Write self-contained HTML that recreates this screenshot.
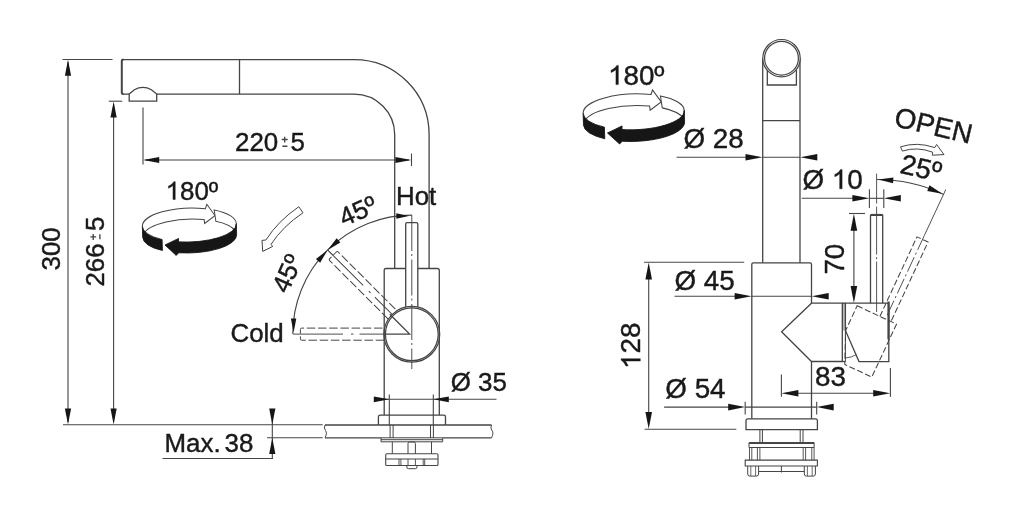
<!DOCTYPE html>
<html lang="en">
<head>
<meta charset="utf-8">
<title>Faucet dimensions</title>
<style>
html,body{margin:0;padding:0;background:#fff;}
body{width:1024px;height:513px;overflow:hidden;font-family:"Liberation Sans",sans-serif;}
svg{display:block;}
svg text{font-family:"Liberation Sans",sans-serif;fill:#1a1a1a;stroke:#1a1a1a;stroke-width:0.42px;stroke-linejoin:round;}
</style>
</head>
<body>
<svg width="1024" height="513" viewBox="0 0 1024 513">
<defs><filter id="soft" x="0" y="0" width="1024" height="513" filterUnits="userSpaceOnUse"><feGaussianBlur stdDeviation="0.55"/></filter></defs>
<rect x="0" y="0" width="1024" height="513" fill="#ffffff"/>
<g filter="url(#soft)">
<line x1="62.5" y1="59.5" x2="112.5" y2="59.5" stroke="#444444" stroke-width="1.1"/>
<line x1="68" y1="62" x2="68" y2="422" stroke="#444444" stroke-width="1.1"/>
<polygon points="68,59.8 71.1,75.8 64.9,75.8" fill="#161616"/>
<polygon points="68,424.6 64.9,408.6 71.1,408.6" fill="#161616"/>
<line x1="108.8" y1="101.2" x2="122.2" y2="101.2" stroke="#444444" stroke-width="1.1"/>
<line x1="113.6" y1="104" x2="113.6" y2="422" stroke="#444444" stroke-width="1.1"/>
<polygon points="113.6,101.4 116.7,117.4 110.5,117.4" fill="#161616"/>
<polygon points="113.6,424.6 110.5,408.6 116.7,408.6" fill="#161616"/>
<line x1="63" y1="424.8" x2="322.7" y2="424.8" stroke="#444444" stroke-width="1.1"/>
<line x1="143" y1="107.5" x2="143" y2="164.5" stroke="#444444" stroke-width="1.1"/>
<line x1="411.5" y1="153.5" x2="411.5" y2="166" stroke="#444444" stroke-width="1.1"/>
<line x1="145" y1="160" x2="409" y2="160" stroke="#444444" stroke-width="1.1"/>
<polygon points="143.2,160 159.2,156.9 159.2,163.1" fill="#161616"/>
<polygon points="411.3,160 395.3,163.1 395.3,156.9" fill="#161616"/>
<line x1="267" y1="437.7" x2="322.7" y2="437.7" stroke="#444444" stroke-width="1.1"/>
<line x1="272.3" y1="409" x2="272.3" y2="458.5" stroke="#444444" stroke-width="1.1"/>
<polygon points="272.3,424.6 269.2,408.6 275.4,408.6" fill="#161616"/>
<polygon points="272.3,437.9 275.4,453.9 269.2,453.9" fill="#161616"/>
<line x1="162.5" y1="458.5" x2="273" y2="458.5" stroke="#444444" stroke-width="1.1"/>
<path d="M122.5,59.6 H354.1 A75,75 0 0 1 429.1,134.6 V268.5" fill="none" stroke="#444444" stroke-width="1.3" />
<path d="M122.5,94.1 H129.2 M156.7,94.1 H354.1 A40.6,40.5 0 0 1 394.7,134.6 V268.5" fill="none" stroke="#444444" stroke-width="1.3" />
<path d="M123.5,94.1 Q121.8,94.1 121.8,92.6 V61.1 Q121.8,59.6 123.5,59.6" fill="none" stroke="#444444" stroke-width="2.0" />
<line x1="239.5" y1="59.6" x2="239.5" y2="94.1" stroke="#444444" stroke-width="1.3"/>
<path d="M129.2,101.2 V94.1 L134.4,89.7 Q142.9,85.1 151.4,89.7 L156.7,94.1 V101.2 Z" fill="none" stroke="#444444" stroke-width="1.3" />
<path d="M384.2,415 V270.5 Q384.2,268.5 386.2,268.5 H437.3 Q439.3,268.5 439.3,270.5 V415" fill="none" stroke="#444444" stroke-width="1.3" />
<path d="M405.7,307 V224 Q405.7,222.7 407,222.7 H416.5 Q417.8,222.7 417.8,224 V307" fill="#fff" stroke="#444444" stroke-width="1.3" />
<line x1="411.8" y1="215" x2="411.8" y2="369" stroke="#444444" stroke-width="0.95" stroke-dasharray="36 3 2 3.5"/>
<circle cx="411.8" cy="334.3" r="27.9" fill="none" stroke="#444444" stroke-width="1.25"/>
<circle cx="411.8" cy="334.3" r="26.4" fill="none" stroke="#444444" stroke-width="1.25"/>
<path d="M384.2,334.1 H409.6 L389.8,314.3" fill="none" stroke="#444444" stroke-width="1.3" />
<g transform="rotate(-45 411.8 334.1)"><path d="M405.7,306.5 V224 Q405.7,222.7 407,222.7 H416.5 Q417.8,222.7 417.8,224 V306.5" fill="none" stroke="#444444" stroke-width="1" stroke-dasharray="8.5 2.7"/><line x1="411.8" y1="215.3" x2="411.8" y2="307" stroke="#444444" stroke-width="0.95" stroke-dasharray="50 8 2.5 6 40"/></g>
<g transform="rotate(-90 411.8 334.1)"><path d="M405.7,306.5 V224 Q405.7,222.7 407,222.7 H416.5 Q417.8,222.7 417.8,224 V306.5" fill="none" stroke="#444444" stroke-width="1" stroke-dasharray="8.5 2.7"/><line x1="411.8" y1="215.3" x2="411.8" y2="307" stroke="#444444" stroke-width="0.95" stroke-dasharray="50 8 2.5 6 40"/></g>
<path d="M292.8,334.1 A119.0,119.0 0 0 1 411.8,215.1" fill="none" stroke="#444444" stroke-width="1.1" />
<polygon points="293.6,332.6 290.9,318.6 296.3,318.6" fill="#161616"/>
<polygon points="327.65,249.95 320.14,262.67 315.95,258.96" fill="#161616"/>
<polygon points="327.65,249.95 336.66,238.25 340.37,242.44" fill="#161616"/>
<polygon points="408.8,216 396.3,218.7 396.3,213.3" fill="#161616"/>
<line x1="327.66" y1="249.96" x2="332.96" y2="255.26" stroke="#444444" stroke-width="0.9"/>
<path d="M298.8,206.7 L303,212.8 Q283,226 270.9,244.5 L272.8,246.4 L262.7,251.4 L262,240.4 L265.9,240 Q278,221 298.8,206.7 Z" fill="none" stroke="#444444" stroke-width="1.0" />
<line x1="389.3" y1="394.5" x2="389.3" y2="425" stroke="#444444" stroke-width="1.1"/>
<line x1="433.3" y1="394.5" x2="433.3" y2="425" stroke="#444444" stroke-width="1.1"/>
<line x1="374.3" y1="399.3" x2="496.5" y2="399.3" stroke="#444444" stroke-width="1.1"/>
<polygon points="389.3,399.3 373.8,402.2 373.8,396.4" fill="#161616"/>
<polygon points="433.3,399.3 448.8,396.4 448.8,402.2" fill="#161616"/>
<path d="M378.4,425 V417 Q378.4,415.2 380.2,415.2 H443.7 Q445.5,415.2 445.5,417 V425" fill="none" stroke="#444444" stroke-width="1.3" />
<line x1="325" y1="425" x2="378.4" y2="425" stroke="#444444" stroke-width="1.3"/>
<line x1="445.5" y1="425" x2="491.5" y2="425" stroke="#444444" stroke-width="1.3"/>
<line x1="378.4" y1="425" x2="445.5" y2="425" stroke="#444444" stroke-width="1.3"/>
<line x1="325" y1="437.8" x2="381" y2="437.8" stroke="#444444" stroke-width="1.3"/>
<line x1="442.7" y1="437.8" x2="491.5" y2="437.8" stroke="#444444" stroke-width="1.3"/>
<path d="M491.5,425 Q490,428 492,430.5 Q494,433 491.5,437.8" fill="none" stroke="#444444" stroke-width="1.0" />
<path d="M325,425 Q323.5,428 325.5,430.5 Q327.5,433 325,437.8" fill="none" stroke="#444444" stroke-width="1.0" />
<line x1="390.1" y1="425" x2="390.1" y2="438" stroke="#444444" stroke-width="1.0"/>
<line x1="393.1" y1="425" x2="393.1" y2="438" stroke="#444444" stroke-width="1.0"/>
<line x1="430.5" y1="425" x2="430.5" y2="438" stroke="#444444" stroke-width="1.0"/>
<line x1="433.4" y1="425" x2="433.4" y2="438" stroke="#444444" stroke-width="1.0"/>
<path d="M381,437.8 H442.7 V441.8 H381 Z" fill="none" stroke="#444444" stroke-width="1.0" />
<line x1="381" y1="439.7" x2="442.7" y2="439.7" stroke="#444444" stroke-width="1.0"/>
<line x1="392.3" y1="441.8" x2="392.3" y2="453.8" stroke="#444444" stroke-width="1.0"/>
<line x1="431.5" y1="441.8" x2="431.5" y2="453.8" stroke="#444444" stroke-width="1.0"/>
<path d="M408,453.8 V443.5 Q408,442 409.5,442 H413.9 Q415.4,442 415.4,443.5 V453.8" fill="none" stroke="#444444" stroke-width="1.0" />
<path d="M385.7,455 Q385.7,453.8 387,453.8 H436.7 Q438,453.8 438,455 V464.5 Q438,465.5 437,465.5 H386.7 Q385.7,465.5 385.7,464.5 Z" fill="none" stroke="#444444" stroke-width="1.1" />
<line x1="385.7" y1="459" x2="438" y2="459" stroke="#444444" stroke-width="1.0"/>
<line x1="399" y1="459" x2="399" y2="465.5" stroke="#444444" stroke-width="0.9"/>
<line x1="400.9" y1="459" x2="400.9" y2="465.5" stroke="#444444" stroke-width="0.9"/>
<line x1="408" y1="459" x2="408" y2="465.5" stroke="#444444" stroke-width="0.9"/>
<line x1="415.4" y1="459" x2="415.4" y2="465.5" stroke="#444444" stroke-width="0.9"/>
<line x1="423.2" y1="459" x2="423.2" y2="465.5" stroke="#444444" stroke-width="0.9"/>
<line x1="424.7" y1="459" x2="424.7" y2="465.5" stroke="#444444" stroke-width="0.9"/>
<path d="M406.8,465.5 V467 Q406.8,468.7 408.5,468.7 H415.3 Q417,468.7 417,467 V465.5" fill="none" stroke="#444444" stroke-width="1.0" />
<g>
<g transform="rotate(-1.6 189.5 230.5)">
<path d="M142.5,225 A47.0,17.0 0 0 1 205.96,209.08 L207.56,204.78 L215.35,216.25 L204.81,223.88 L204.41,219.88 A47.0,17.0 0 0 0 143.53,232.47" fill="#fff" stroke="#444444" stroke-width="1.0" />
<path d="M214.75,210.66 A47.0,17.0 0 0 1 236.5,225 L235.47,232.47 A47.0,17.0 0 0 0 216.12,221.99 Z" fill="#fff" stroke="#444444" stroke-width="1.0" />
<path d="M236.5,225 A47.0,17.0 0 0 1 178.13,241.5 L178.33,238.1 L164.59,244.32 L175.53,255.1 L178.13,252.5 A47.0,17.0 0 0 0 236.5,236 Z" fill="#141414" stroke="#141414" stroke-width="0.8" />
<path d="M142.5,225 A47.0,17.0 0 0 0 161.87,238.75 L161.87,249.75 A47.0,17.0 0 0 1 142.5,236 Z" fill="#141414" stroke="#141414" stroke-width="0.8" />
</g>
</g>
<g transform="translate(235 150.7) rotate(0)">
<text x="0" y="0" font-size="25.9">220</text>
<text x="55.6" y="0" font-size="25.9">5</text>
<path d="M46.7,-11.2 H52.7 M49.7,-14 V-8.3 M47.4,-4.5 H52.4" fill="none" stroke="#444444" stroke-width="1.35"/>
</g>
<g transform="translate(165.6 199.5)">
<path transform="translate(0 0) scale(0.01265 -0.01214)" d="M763,0 H583 V1147 Q518,1085 412,1023 Q307,961 223,930 V1104 Q374,1175 487,1276 Q600,1377 647,1472 H763 Z" fill="#1a1a1a" stroke="#1a1a1a" stroke-width="33.21" stroke-linejoin="round"/>
<text x="14.4" y="0" font-size="25.9">80º</text>
</g>
<text x="396" y="205" font-size="25.9" text-anchor="start" >Hot</text>
<text x="230.5" y="342" font-size="25.9" text-anchor="start" >Cold</text>
<text x="450.7" y="391.2" font-size="25.9" text-anchor="start" >Ø 35</text>
<text x="164.5" y="451.8" font-size="25.9" text-anchor="start" >Max.</text>
<text x="224.6" y="451.8" font-size="25.9" text-anchor="start" >38</text>
<text x="59.5" y="270.5" font-size="25.9" text-anchor="start" transform="rotate(-90 59.5 270.5)" >300</text>
<g transform="translate(104.4 286.6) rotate(-90)">
<text x="0" y="0" font-size="25.9">266</text>
<text x="55.6" y="0" font-size="25.9">5</text>
<path d="M46.7,-11.2 H52.7 M49.7,-14 V-8.3 M47.4,-4.5 H52.4" fill="none" stroke="#444444" stroke-width="1.35"/>
</g>
<text x="358" y="211.2" font-size="25.9" text-anchor="middle" transform="rotate(-24 358 211.2)" dy="8.6">45º</text>
<text x="287.4" y="273.6" font-size="25.9" text-anchor="middle" transform="rotate(-66 287.4 273.6)" dy="8.6">45º</text>
<line x1="762.7" y1="58" x2="762.7" y2="262.8" stroke="#444444" stroke-width="1.3"/>
<line x1="800" y1="58" x2="800" y2="262.8" stroke="#444444" stroke-width="1.3"/>
<circle cx="781.5" cy="58.2" r="18.7" fill="#fff" stroke="#444444" stroke-width="1.2"/>
<circle cx="781.5" cy="58.2" r="16.9" fill="none" stroke="#444444" stroke-width="1.2"/>
<path d="M767.3,70 V85 H796.4 V70" fill="none" stroke="#444444" stroke-width="1.3" />
<line x1="762.7" y1="120.7" x2="800" y2="120.7" stroke="#444444" stroke-width="1.3"/>
<path d="M751.8,418.8 V264.3 Q751.8,262.8 753.3,262.8 H810 Q811.5,262.8 811.5,264.3 V303.2 M811.5,361.5 V418.8" fill="none" stroke="#444444" stroke-width="1.3" />
<rect x="842.3" y="303.2" width="3.1" height="27.2" fill="#b9b9b9"/>
<path d="M811.5,303.2 H842.3 V361.5 H811.5 L781.6,331.7 Z" fill="none" stroke="#444444" stroke-width="1.3" />
<line x1="842.3" y1="303.2" x2="845.4" y2="303.2" stroke="#444444" stroke-width="1.3"/>
<line x1="842.3" y1="361.5" x2="845.4" y2="361.5" stroke="#444444" stroke-width="1.3"/>
<path d="M845.4,303.2 H888.8 V361.6 H859 L845.4,330.4 Z" fill="none" stroke="#444444" stroke-width="1.3" />
<line x1="845.4" y1="330.4" x2="845.4" y2="361.5" stroke="#444444" stroke-width="1.0"/>
<line x1="888.5" y1="301.5" x2="888.5" y2="339.5" stroke="#444444" stroke-width="2.2"/>
<path d="M845.4,358 Q851.5,357.6 856.3,354.6" fill="none" stroke="#444444" stroke-width="0.9" />
<path d="M870.5,303.2 V215.4 H882.7 V303.2" fill="none" stroke="#444444" stroke-width="1.3" />
<line x1="870.5" y1="214.8" x2="882.7" y2="214.8" stroke="#444444" stroke-width="1.8"/>
<line x1="876.6" y1="173.6" x2="876.6" y2="312" stroke="#444444" stroke-width="0.9" stroke-dasharray="30 3 48 2.5 2 2.5 60"/>
<g transform="rotate(25 845.4 331)" fill="none" stroke="#444444" stroke-width="1.05" stroke-dasharray="6 2.6">
<path d="M845.4,303.2 H888.8 V361.6 H859 L845.4,330.4 Z"/>
<path d="M870.5,303.2 V215.4 H882.7 V303.2"/>
</g>
<g transform="rotate(25 845.4 331)" fill="none" stroke="#444444" stroke-width="0.9">
<line x1="876.6" y1="160.5" x2="876.6" y2="211"/>
<line x1="876.6" y1="211" x2="876.6" y2="300" stroke-dasharray="16 3 2 3"/>
</g>
<path d="M746,429.7 V420.6 Q746,418.8 747.8,418.8 H815.6 Q817.4,418.8 817.4,420.6 V429.7 Z" fill="none" stroke="#444444" stroke-width="1.3" />
<line x1="759.9" y1="429.7" x2="759.9" y2="442.4" stroke="#444444" stroke-width="1.0"/>
<line x1="762.4" y1="429.7" x2="762.4" y2="442.4" stroke="#444444" stroke-width="1.0"/>
<line x1="800.2" y1="429.7" x2="800.2" y2="442.4" stroke="#444444" stroke-width="1.0"/>
<line x1="803" y1="429.7" x2="803" y2="442.4" stroke="#444444" stroke-width="1.0"/>
<path d="M749,442.6 H814.1 V447.5 H749 Z" fill="none" stroke="#444444" stroke-width="1.0" />
<line x1="749" y1="443.2" x2="814.1" y2="443.2" stroke="#444444" stroke-width="1.8"/>
<line x1="749.5" y1="447.5" x2="749.5" y2="460.1" stroke="#444444" stroke-width="0.9"/>
<line x1="751.8" y1="447.5" x2="751.8" y2="460.1" stroke="#444444" stroke-width="0.9"/>
<line x1="757.4" y1="447.5" x2="757.4" y2="460.1" stroke="#444444" stroke-width="0.9"/>
<line x1="759.9" y1="447.5" x2="759.9" y2="460.1" stroke="#444444" stroke-width="0.9"/>
<line x1="803.2" y1="447.5" x2="803.2" y2="460.1" stroke="#444444" stroke-width="0.9"/>
<line x1="805.6" y1="447.5" x2="805.6" y2="460.1" stroke="#444444" stroke-width="0.9"/>
<line x1="811.8" y1="447.5" x2="811.8" y2="460.1" stroke="#444444" stroke-width="0.9"/>
<line x1="814.1" y1="447.5" x2="814.1" y2="460.1" stroke="#444444" stroke-width="0.9"/>
<path d="M745.2,460.1 H817.4 V466 H745.2 Z" fill="none" stroke="#444444" stroke-width="1.1" />
<path d="M747.7,466 V474 Q747.7,476.1 749.8,476.1 H756.5 Q758.6,476.1 758.6,474 V466" fill="none" stroke="#444444" stroke-width="1.0" />
<path d="M804.3,466 V474 Q804.3,476.1 806.4,476.1 H813.3 Q815.4,476.1 815.4,474 V466" fill="none" stroke="#444444" stroke-width="1.0" />
<line x1="758.6" y1="471.5" x2="804.3" y2="471.5" stroke="#444444" stroke-width="1.0"/>
<line x1="781.4" y1="466" x2="781.4" y2="472.5" stroke="#444444" stroke-width="1.0"/>
<line x1="750.8" y1="466" x2="750.8" y2="476" stroke="#444444" stroke-width="0.8"/>
<line x1="755.6" y1="466" x2="755.6" y2="476" stroke="#444444" stroke-width="0.8"/>
<line x1="807.4" y1="466" x2="807.4" y2="476" stroke="#444444" stroke-width="0.8"/>
<line x1="812.2" y1="466" x2="812.2" y2="476" stroke="#444444" stroke-width="0.8"/>
<line x1="676.6" y1="157.3" x2="746" y2="157.3" stroke="#444444" stroke-width="1.1"/>
<line x1="762.7" y1="157.3" x2="800" y2="157.3" stroke="#444444" stroke-width="1.1"/>
<polygon points="762.5,157.3 745.5,160.6 745.5,154" fill="#161616"/>
<polygon points="800.3,157.3 817.3,154 817.3,160.6" fill="#161616"/>
<line x1="801.8" y1="198.3" x2="853" y2="198.3" stroke="#444444" stroke-width="1.1"/>
<line x1="869.4" y1="198.3" x2="883.8" y2="198.3" stroke="#444444" stroke-width="1.1"/>
<polygon points="869.4,198.3 852.4,201.6 852.4,195" fill="#161616"/>
<polygon points="883.8,198.3 900.8,195 900.8,201.6" fill="#161616"/>
<line x1="869.4" y1="189.3" x2="869.4" y2="208" stroke="#444444" stroke-width="1.1"/>
<line x1="883.8" y1="189.3" x2="883.8" y2="208" stroke="#444444" stroke-width="1.1"/>
<line x1="849" y1="213.5" x2="865" y2="213.5" stroke="#444444" stroke-width="1.1"/>
<line x1="853.9" y1="230" x2="853.9" y2="286" stroke="#444444" stroke-width="1.1"/>
<polygon points="853.9,213.7 857.2,230.7 850.6,230.7" fill="#161616"/>
<polygon points="853.9,303 850.6,286 857.2,286" fill="#161616"/>
<line x1="644.1" y1="262.3" x2="744.2" y2="262.3" stroke="#444444" stroke-width="1.1"/>
<line x1="644.6" y1="429.2" x2="736.3" y2="429.2" stroke="#444444" stroke-width="1.1"/>
<line x1="648.7" y1="279" x2="648.7" y2="413" stroke="#444444" stroke-width="1.1"/>
<polygon points="648.7,262.5 652,279.5 645.4,279.5" fill="#161616"/>
<polygon points="648.7,429 645.4,412 652,412" fill="#161616"/>
<line x1="674.5" y1="296.2" x2="735" y2="296.2" stroke="#444444" stroke-width="1.1"/>
<line x1="751.8" y1="296.2" x2="811.5" y2="296.2" stroke="#444444" stroke-width="1.1"/>
<polygon points="751.6,296.2 734.6,299.5 734.6,292.9" fill="#161616"/>
<polygon points="811.7,296.2 828.7,292.9 828.7,299.5" fill="#161616"/>
<line x1="664.1" y1="407.1" x2="729" y2="407.1" stroke="#444444" stroke-width="1.1"/>
<line x1="745.2" y1="407.1" x2="816.7" y2="407.1" stroke="#444444" stroke-width="1.1"/>
<polygon points="745.2,407.1 728.2,410.4 728.2,403.8" fill="#161616"/>
<polygon points="816.7,407.1 833.7,403.8 833.7,410.4" fill="#161616"/>
<line x1="745.2" y1="401.8" x2="745.2" y2="414.5" stroke="#444444" stroke-width="1.1"/>
<line x1="816.7" y1="401.8" x2="816.7" y2="414.5" stroke="#444444" stroke-width="1.1"/>
<line x1="781.4" y1="374.4" x2="781.4" y2="396.8" stroke="#444444" stroke-width="1.1"/>
<line x1="890.4" y1="368" x2="890.4" y2="396.8" stroke="#444444" stroke-width="1.1"/>
<line x1="798" y1="393.2" x2="874" y2="393.2" stroke="#444444" stroke-width="1.1"/>
<polygon points="781.4,393.2 798.4,389.9 798.4,396.5" fill="#161616"/>
<polygon points="890.2,393.2 873.2,396.5 873.2,389.9" fill="#161616"/>
<path d="M876.6,179.5 A159.0,159.0 0 0 1 943.8,194.4" fill="none" stroke="#444444" stroke-width="1.1" />
<polygon points="878.27,179.51 893.41,177.38 893.07,183.37" fill="#161616"/>
<polygon points="942.28,193.7 927.24,190.94 929.46,185.37" fill="#161616"/>
<path d="M900.5,146.8 Q917,141.5 934.8,147.6 L936.6,144.5 L944,154.6 L932.3,155.2 L932.6,152.2 Q917,146.3 902.4,151.1 Z" fill="none" stroke="#444444" stroke-width="1.0" />
<g transform="translate(429.97 -125.54) scale(1.076 1.055)">
<g transform="rotate(-1.6 189.5 230.5)">
<path d="M142.5,225 A47.0,17.0 0 0 1 205.96,209.08 L207.56,204.78 L215.35,216.25 L204.81,223.88 L204.41,219.88 A47.0,17.0 0 0 0 143.53,232.47" fill="#fff" stroke="#444444" stroke-width="1.0" />
<path d="M214.75,210.66 A47.0,17.0 0 0 1 236.5,225 L235.47,232.47 A47.0,17.0 0 0 0 216.12,221.99 Z" fill="#fff" stroke="#444444" stroke-width="1.0" />
<path d="M236.5,225 A47.0,17.0 0 0 1 178.13,241.5 L178.33,238.1 L164.59,244.32 L175.53,255.1 L178.13,252.5 A47.0,17.0 0 0 0 236.5,236 Z" fill="#141414" stroke="#141414" stroke-width="0.8" />
<path d="M142.5,225 A47.0,17.0 0 0 0 161.87,238.75 L161.87,249.75 A47.0,17.0 0 0 1 142.5,236 Z" fill="#141414" stroke="#141414" stroke-width="0.8" />
</g>
</g>
<g transform="translate(608 84.6)">
<path transform="translate(0 0) scale(0.01357 -0.01303)" d="M763,0 H583 V1147 Q518,1085 412,1023 Q307,961 223,930 V1104 Q374,1175 487,1276 Q600,1377 647,1472 H763 Z" fill="#1a1a1a" stroke="#1a1a1a" stroke-width="30.94" stroke-linejoin="round"/>
<text x="15.46" y="0" font-size="27.8">80º</text>
</g>
<text x="683.4" y="148" font-size="27.8" text-anchor="start" >Ø 28</text>
<g transform="translate(802.4 188.8)">
<text x="0" y="0" font-size="27.8">Ø </text>
<path transform="translate(29.36 0) scale(0.01357 -0.01303)" d="M763,0 H583 V1147 Q518,1085 412,1023 Q307,961 223,930 V1104 Q374,1175 487,1276 Q600,1377 647,1472 H763 Z" fill="#1a1a1a" stroke="#1a1a1a" stroke-width="30.94" stroke-linejoin="round"/>
<text x="44.81" y="0" font-size="27.8">0</text>
</g>
<text x="674.4" y="290.4" font-size="27.8" text-anchor="start" >Ø 45</text>
<text x="665.3" y="398" font-size="27.8" text-anchor="start" >Ø 54</text>
<text x="815" y="386.3" font-size="27.8" text-anchor="start" >83</text>
<text x="844.4" y="274.6" font-size="27.8" text-anchor="start" transform="rotate(-90 844.4 274.6)" >70</text>
<g transform="translate(640.3 369) rotate(-90)">
<path transform="translate(0 0) scale(0.01357 -0.01303)" d="M763,0 H583 V1147 Q518,1085 412,1023 Q307,961 223,930 V1104 Q374,1175 487,1276 Q600,1377 647,1472 H763 Z" fill="#1a1a1a" stroke="#1a1a1a" stroke-width="30.94" stroke-linejoin="round"/>
<text x="15.46" y="0" font-size="27.8">28</text>
</g>
<text x="933.6" y="125.6" font-size="27.8" text-anchor="middle" transform="rotate(13.2 933.6 125.6)" dy="9.4">OPEN</text>
<text x="921.1" y="168.1" font-size="27.8" text-anchor="middle" transform="rotate(12.5 921.1 168.1)" dy="9.4">25º</text>
</g>
</svg>
</body>
</html>
